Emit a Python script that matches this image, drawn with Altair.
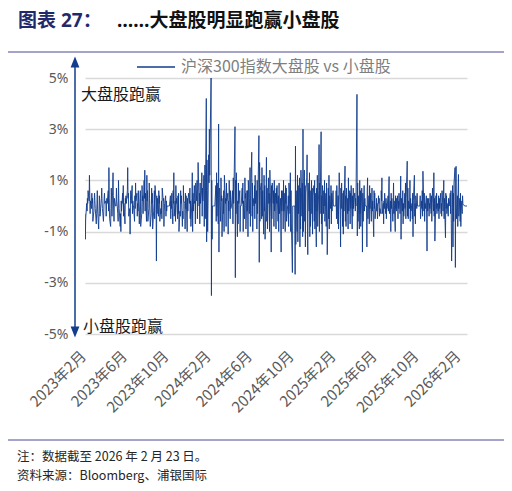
import pandas as pd
import altair as alt

# ---- data (daily spread, %, CSI300 large cap vs small cap) ----
v2023 = [
    -0.3, -1.3, -0.5, 0.1, -0.2, 0.3, 0.1, 0.6, 0.2, 1.2, 0.4, -0.3, 0.2, -0.1, 0.5, 0.1, 0.3, -0.6, -0.2, 0.2,
    0.5, 0.2, -0.1, -0.7, -0.3, 0.1, 0.6, -0.2, -0.9, -0.3, 0.4, 0.2, -0.4, 0.1, 0.3, 0.7, 0.2, -0.1, -0.6, -0.2, 0.3, 0.5, 0.1,
    0.2, -0.4, 0, 0.3, 0.1, 0.6, -0.2, 1.5, 0.3, -0.5, -0.8, -0.1, 0.7, 0.2, -0.4, 1.3, 0.4, -0.2, -0.6, 0.3,
    0, 0, 0, 0.7, 0.2, -0.3, -0.6, 1.0, 0.3, -0.1, -0.8, -0.3, -1.0, 0.2, -0.2, 0.5, 0.1, 0.8, -0.4, 0.1, -0.7, 0.3, 0.1,
    0.4, 0.1, 0.6, 1.5, 0.3, 0.5, -0.4, -0.1, -1.1, 0.2, 0.6, 0.1, 0.8, -0.3, 0.2, 0, 0, -0.6, 0.4, -0.1, 0.9, 0.2,
    0.5, -0.4, 0.1, -0.2, 0.6, -0.7, -0.2, 0.3, 0.6, -0.8, -0.3, 0.8, 0.2, 0.4, -0.3, 1.0, 0.3, 1.4, -0.2, 0.5, -0.6,
    1.2, 0.2, 0.6, -0.6, -0.1, 0.9, 0.3, -0.2, -0.8, -0.3, 0.7, 0.1, 0.5, -0.9, -0.2, 0.1, 0.6, -0.5, 0.8, 0.2, -2.15, 0.4, -0.3,
    0.3, -0.4, 0.6, 0.1, 0.4, -0.6, -0.1, -0.3, 0.2, -0.5, 0.7, 0.2, 0.3, -0.8, -0.2, 0.1, 0.4, -0.4, 0.2, -0.2, 0,
    0, 0, 0, 0, 0, 0.4, -0.5, 0.2, -0.1, 0.5, -0.7, 0.6, 0.1, 1.3, -0.4, 0.2, -0.6, 0.8, 0.1, 0.3, -0.5, 0.4,
    -0.3, 0.5, -1.0, -0.2, -0.4, 0.6, 0.1, 0.4, -0.8, -0.2, -0.5, 0.8, 0.2, 0.1, -0.9, 0.5, -0.1, 0.4, -1.0, 0.3, -0.2, 0.3,
    0.5, 0.1, 0.7, -0.5, 0.2, -0.8, 0.3, 1.3, -1.0, 0.5, -0.2, 0.8, 0.1, 0.2, -0.7, 0.9, 0.2, 1.0, -0.5, 0.4, 1.7,
]
v2024 = [
    0, 0.5, -0.7, 0.9, 0.1, 0.6, 1.3, -0.4, 0.7, 0.2, 1.2, -0.8, 0.3, 1.6, -0.5, 4.2, -1.4, 1.8, 0.6, -1.0, 2.0, 0.9, 3.0,
    1.2, 2.4, 5.0, -3.5, 1.0, -1.3, 0, 0, 0, 0, 0, 0, 0.8, -0.6, 1.3, -0.4, 0.9, -0.7, 3.2, -1.8, 0.6,
    0.7, -0.6, 1.1, 0.2, 0.4, -1.2, 0.3, -0.3, 0.6, -1.0, 1.2, 0.1, 0.3, -0.8, 0.9, 0.2, 0.5, -1.1, 0.2, -0.2, 1.0,
    -0.5, 0.6, -0.1, 0, 0, 0.6, -0.7, 1.1, 0.1, 0.7, 3.1, -2.8, 1.0, -0.3, 1.3, -1.2, 0.2, -0.7, 0.9, 0.1, 0.6, -1.0,
    0, 0, 0, 0.7, 0.1, 0.9, -1.0, 0.2, -0.5, 1.1, 0.3, 0.5, -0.9, 0.6, -0.2, 0.6, -1.2, 1.0, -0.3, 0.3, 1.5, -0.8, 0.4,
    2.1, -0.4, 0.9, -1.0, 0.3, 0, 0.8, -0.5, 1.2, 0.1, 0.6, -0.9, 1.0, -0.3, 0.3, 2.75, -2.2, 1.7, -0.6, 0.6,
    0.9, -0.5, 1.5, -0.4, 0.6, -1.1, 1.2, -0.2, 0.8, -1.3, 0.4, 1.9, -0.6, 0.7, -0.9, 1.1, 0.1, 0.5, -1.0, 1.4, -0.4, -1.8, 0.8,
    -0.5, 0.9, 0.1, 0.6, -0.8, 1.0, -0.2, 0.5, -0.9, 0.7, 0.1, 0.8, -0.6, 0.4, -1.0, 0.9, -0.3, 0.3, -0.7, -1.8, 0.6, -0.2,
    0.6, -0.9, 1.0, -0.2, 0.5, -1.0, 0.8, 0.1, 0.7, -0.6, 0, 0, 0.4, -0.8, 0.9, -0.3, 1.3, -1.0, 0.6, -0.7, -2.6,
    0, 0, 0, 0, 0, -2.67, 2.34, -1.5, 0.6, -1.0, 1.2, -1.4, 0.8, -0.3, 1.1, -1.6, 0.7, -0.9, 1.4, -0.4, 0.9, -1.2, 3.0,
    -1.0, 1.4, -0.6, 0.8, -1.6, 0.5, 1.1, 2.0, -0.7, -1.9, 0.9, -0.2, 1.3, -1.2, 0.6, -0.8, 1.0, -0.3, 0.7, -1.1, 0.4,
    0.8, -0.6, 1.0, -0.9, 0.5, -1.6, 0.7, -0.2, 1.2, -0.8, 0.6, 2.4, -1.0, 0.9, -0.3, 2.9, -0.7, 0.4, -1.5, 0.8, -0.3, 0.6,
]
v2025 = [
    0, 1.0, -0.6, 0.5, -0.8, 0.9, -0.2, -1.9, 0.7, -0.5, 1.2, -0.9, 0.4, -0.1, 0.8, -0.7, 0.5, -0.2, 0.6, 0, 0, 0, 0,
    0, 0, 0.6, -0.5, 0.8, -0.7, 0.4, -0.9, 0.5, 1.3, -0.2, -1.6, 0.7, -0.1, 0.9, -0.8, 0.5, -1.1, 0.6, -0.2,
    1.56, -0.6, 0.4, -0.8, 0.7, -0.3, 0.3, -0.9, 1.1, -0.2, 0.6, -0.7, 0.5, -0.1, 0.8, -0.9, 0.4, -0.4, 0.7, -0.1, 0.5,
    0.5, -0.2, 0.3, 0, 4.36, -1.17, 0.9, -0.6, 0.4, -0.9, 1.0, -0.3, 0.6, -0.8, 0.7, -0.1, -1.8, 0.5, -0.6, 0.8, -0.2, 0.3,
    0, 0, 0, -1.6, 0.6, 1.1, -0.5, 0.4, -0.7, 0.8, -0.1, 0.5, -0.6, 0.3, 0.7, -0.2, 0.2, -1.2, 0.6, -0.1, 0.5, -0.5,
    0, 0.3, -0.2, 0.1, -0.5, 0.4, 0.1, 0.3, -0.4, -0.1, -0.3, 0.6, 0.2, 1.1, -0.3, 0.1, -0.7, 0.2, -0.1, 0.5, -0.3,
    0.3, -0.5, 0.1, -0.1, 0.4, -0.2, 0.7, 1.15, -0.3, 0.2, -1.0, 0.5, -0.1, 0.3, -0.6, 0.1, 0.9, -0.3, 0.2, -1.0, 0.4, -0.1, 0.3,
    -0.2, 0.4, -0.5, 0.2, -0.1, 0.5, -0.3, 0.2, 1.17, -1.3, 0.3, -0.2, 0.6, -0.7, 0.1, -0.4, 0.5, -0.1, 0.9, -0.5, 0.3,
    1.75, -0.4, 0.7, -0.5, 0.2, -0.1, 1.0, -0.6, 0.3, -0.2, 0.1, -0.5, 0.5, -1.2, 0.2, 1.2, -0.4, 0.1, -0.7, 0.4, -0.1, 0.5,
    0, 0, 0, 0, 0, 0, 0.4, -0.5, 0.2, -0.1, 0.6, -0.4, 1.36, -0.2, 0.5, -0.6, 0.1, -0.1, 0.4, -0.5, -1.76, 0.3, -0.2,
    0.3, -0.4, 0.1, -0.1, 0.5, -0.3, 0.4, -0.6, 0.1, 0.7, -0.2, 1.3, -0.4, 0.3, -1.37, 0.4, -0.1, 0.5, -0.3, 0.1,
    -0.2, 0.4, -0.5, 0.3, -0.1, 0.5, -0.3, 0.1, -0.4, 0.6, -0.2, 0.4, 1.0, -0.5, 0.3, -1.24, 0.5, -0.1, 0.4, -0.3, 0.1, -0.4, 0.3,
]
v2026 = [
    0, 0, 0.5, -0.3, 0.6, -0.7, -2.15, 0.8, -1.6, 0.5, -0.6, 0.9, 1.5, -2.4, 0.7, 1.55, -0.5, 0.4, -0.8, 0.6, 1.23, -0.4,
    0.3, -0.6, 0.5, -0.8, 0.2, -0.3, 0.4, 0.1, 0.05, 0.05, 0, 0, 0, 0, 0, 0,
]

year_spans = [
    ("2023-02-01", "2023-12-31", v2023),
    ("2024-01-01", "2024-12-31", v2024),
    ("2025-01-01", "2025-12-31", v2025),
    ("2026-01-01", "2026-02-23", v2026),
]

tick_dates = ["2023-02-01", "2023-06-01", "2023-10-01", "2024-02-01", "2024-06-01",
              "2024-10-01", "2025-02-01", "2025-06-01", "2025-10-01", "2026-02-01"]
y_ticks = [-5, -3, -1, 1, 3, 5]

title_a = "图表 27："
title_b = "……大盘股明显跑赢小盘股"
legend_label = "沪深300指数大盘股 vs 小盘股"
note_up = "大盘股跑赢"
note_down = "小盘股跑赢"
foot1 = "注：数据截至 2026 年 2 月 23 日。"
foot2 = "资料来源：Bloomberg、浦银国际"

frames = []
for s, e, vals in year_spans:
    d = pd.bdate_range(s, e)
    n = min(len(d), len(vals))
    frames.append(pd.DataFrame({"date": d[:n], "value": vals[:n]}))
df = pd.concat(frames, ignore_index=True)


def dt(s):
    y, m, d = (int(p) for p in s.split("-"))
    return alt.DateTime(year=y, month=m, date=d)


LINE = "#123c8c"
NAVY = "#1f2a6e"
CJK = "Noto Sans CJK SC"
MIX = "Noto Sans, Noto Sans CJK SC"

line = alt.Chart(df).mark_line(color=LINE, strokeWidth=0.9, clip=True).encode(
    x=alt.X("date:T",
            scale=alt.Scale(domain=[dt("2023-02-01"), dt("2026-02-23")], nice=False),
            axis=alt.Axis(values=[dt(t) for t in tick_dates], format="%Y年%-m月", formatType="time",
                          labelAngle=-45, labelAlign="right", labelBaseline="middle",
                          labelPadding=19, labelOffset=-2, labelFlush=False, labelOverlap=False,
                          labelBound=False, labelFontSize=15, labelFont=CJK, labelColor="#595959",
                          grid=False, domain=False, ticks=False, title=None)),
    y=alt.Y("value:Q",
            scale=alt.Scale(domain=[-5, 5], nice=False),
            axis=alt.Axis(values=y_ticks, labelExpr="datum.value + '%'", grid=True,
                          gridColor="#d9d9d9", gridWidth=1.5, domain=False, ticks=False,
                          labelPadding=17, labelFontSize=14, labelFont="Noto Sans",
                          labelColor="#595959", title=None)),
)

one = pd.DataFrame({"k": [0]})


def text_layer(txt, x, y, size, color, weight="normal", font=CJK, align="left", baseline="middle"):
    return alt.Chart(pd.DataFrame({"t": [txt]})).mark_text(
        align=align, baseline=baseline, fontSize=size, font=font, color=color, fontWeight=weight
    ).encode(text="t:N", x=alt.value(x), y=alt.value(y))


def hrule(x1, x2, y, color, w):
    return alt.Chart(one).mark_rule(color=color, strokeWidth=w).encode(
        x=alt.value(x1), x2=alt.value(x2), y=alt.value(y))


layers = [
    line,
    hrule(-80, 422, -26, "#4a4a92", 1),
    hrule(-80, 422, 362, "#4a4a92", 1),
    hrule(52, 90, -11, LINE, 1.5),
    text_layer(legend_label, 96, -11, 16, "#7f7f7f"),
    text_layer(title_a, -67, -57, 19, NAVY, "bold", MIX),
    text_layer(title_b, 32, -57, 19, "#111111", "bold", MIX),
    alt.Chart(one).mark_rule(color=LINE, strokeWidth=1.5).encode(
        x=alt.value(-10), y=alt.value(-14), y2=alt.value(252)),
    alt.Chart(one).mark_point(shape="M-0.8,1L0,-1L0.8,1Z", filled=True, size=121, color=LINE, opacity=1).encode(
        x=alt.value(-10), y=alt.value(-16)),
    alt.Chart(one).mark_point(shape="M-0.8,-1L0,1L0.8,-1Z", filled=True, size=121, color=LINE, opacity=1).encode(
        x=alt.value(-10), y=alt.value(254)),
    text_layer(note_up, -4, 17, 16, "#1a1a1a"),
    text_layer(note_down, -2, 249, 16, "#1a1a1a"),
    text_layer(foot1, -68, 379, 12.5, "#262626"),
    text_layer(foot2, -68, 398, 12.5, "#262626"),
]

chart = alt.layer(*layers).properties(
    width=382, height=256,
    padding={"left": 77, "top": 70, "right": 37, "bottom": 149},
    autosize="none",
    background="white",
).configure_view(stroke=None)

chart.save("out.html", embed_options={"renderer": "svg", "actions": False})
